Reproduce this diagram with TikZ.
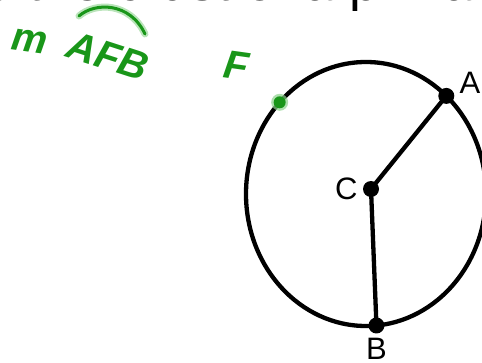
\documentclass[tikz,border=0pt]{standalone}
\usepackage{fontspec}
\setmainfont{Liberation Sans}
\usetikzlibrary{positioning,calc}
\definecolor{pzedge}{RGB}{0,0,0}
\definecolor{pzpen}{RGB}{25,150,25}
\definecolor{pzglow}{RGB}{140,210,140}
\tikzset{
  rim/.style={draw=pzedge, line width=4.3pt},
  spoke/.style={draw=pzedge, line width=4.3pt},
  dot/.style={circle, fill=pzedge, inner sep=0pt, minimum size=16pt},
  lbl/.style={font=\fontsize{31}{31}\selectfont, inner sep=1pt},
  head/.style={font=\fontsize{53}{53}\selectfont, inner sep=0pt},
  pen/.style={text=pzpen, font=\fontsize{40}{40}\selectfont\itshape\bfseries, inner sep=0pt},
  penline/.style={draw=pzpen, line width=3pt, line cap=round},
  penglow/.style={draw=pzglow, line width=7pt, line cap=round, opacity=0.6},
  every picture/.append style={line join=round}
}
\begin{document}
\begin{tikzpicture}[x=1pt,y=1pt]
  \useasboundingbox (0,0) rectangle (482,362);
  % heading, cut off by the page edge
  \node[head, anchor=base east] (title) at (473,361) {o the crust of a pizza};

  % the crust
  \coordinate (ctr) at (366,168);
  \draw[rim] (ctr) ellipse [x radius=120, y radius=132];
  \node[dot] (A) at ($(ctr)+(48:120 and 132)$) {};
  \node[dot] (B) at ($(ctr)+(-85:120 and 132)$) {};
  \node[dot] (C) at (371,173) {};
  \node[lbl, right=4pt of A, yshift=13pt] (labA) {A};
  \node[lbl, left=4pt of C] (labC) {C};
  \node[lbl, below=3pt of B] (labB) {B};
  \draw[spoke] (C.center) -- (A.center);
  \draw[spoke] (C.center) -- (B.center);

  % handwritten notes
  \coordinate (F) at ($(ctr)+(136:120 and 132)$);
  \fill[pzglow, opacity=0.7] (F) circle (8.5);
  \fill[pzpen] (F) circle (6);
  \node[pen, rotate=-8] (m) at (30,321) {m};
  \node[pen, rotate=-18] (afb) at (108,306) {AFB};
  \node[pen, rotate=-8] (f) at (237,296) {F};
  \coordinate (arcL) at (79,346);
  \coordinate (arcR) at (145,328);
  \draw[penglow] (arcL) .. controls (95,360) and (130,360) .. (arcR);
  \draw[penline] (arcL) .. controls (95,360) and (130,360) .. (arcR);
\end{tikzpicture}
\end{document}
